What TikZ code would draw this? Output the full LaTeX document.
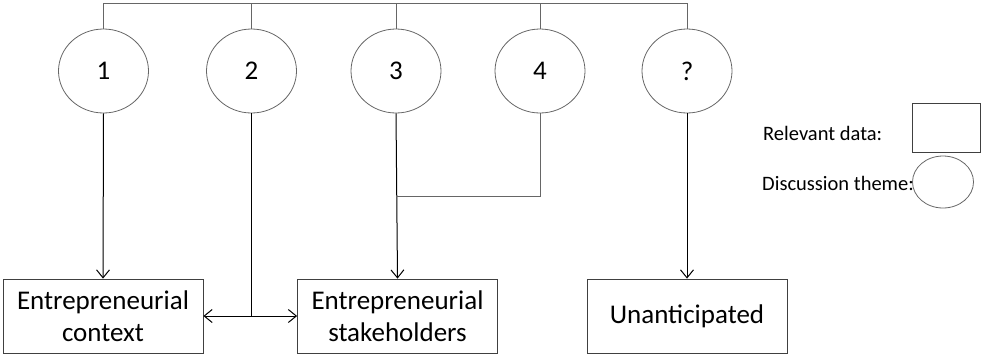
\documentclass[tikz,border=0pt]{standalone}
\usepackage{fontspec}
\setmainfont{Carlito}
\usetikzlibrary{arrows.meta,shapes.geometric}
\begin{document}
\begin{tikzpicture}[x=1pt,y=-1pt,
  theme/.style={draw=black!60,line width=0.8pt,ellipse,minimum width=90pt,minimum height=84pt,inner sep=0pt,font=\fontsize{27}{32}\selectfont},
  databox/.style={draw=black!75,line width=0.8pt,rectangle,minimum width=200pt,minimum height=74pt,inner sep=0pt,align=center,font=\fontsize{27}{32}\selectfont},
  bar/.style={draw=black!60,line width=0.9pt},
  flow/.style={draw=black,line width=1pt,-{Straight Barb[length=8pt,width=13pt]}},
  legend/.style={anchor=west,inner sep=0pt,font=\fontsize{20.5}{24}\selectfont}]
\useasboundingbox (0,0) rectangle (981,354);

% discussion themes
\node[theme] (c1) at (103.5,71) {1};
\node[theme] (c2) at (251.5,71) {2};
\node[theme] (c3) at (396,71) {3};
\node[theme] (c4) at (540,71) {4};
\node[theme] (c5) at (687,71) {?};

% relevant data
\node[databox] (b1) at (103,316) {Entrepreneurial\\context};
\node[databox] (b2) at (397.5,316) {Entrepreneurial\\stakeholders};
\node[databox] (b3) at (687,316) {Unanticipated};

% common bar linking all themes
\coordinate (top) at (0,3);
\draw[bar] (c1.north) -- (c1.north |- top) -- (c5.north |- top) -- (c5.north);
\foreach \c in {c2,c3,c4}
  \draw[bar] (\c.north) -- (\c.north |- top);

% theme to data connectors
\draw[flow] (c1.south) -- (b1.north);
\draw[flow] (c3.south) -- (b2.north);
\draw[flow] (c5.south) -- (b3.north);
\coordinate (m) at (396,196);
\draw[bar] (c4.south) |- (m);
\coordinate (j) at (251.5,316);
\draw[draw=black,line width=1pt] (c2.south) -- (j);
\draw[draw=black,line width=1pt,{Straight Barb[length=8pt,width=13pt]}-{Straight Barb[length=8pt,width=13pt]}] (b1.east) -- (b2.west);

% legend
\node[legend] (lt1) at (763,133) {Relevant data:};
\node[draw=black!75,line width=0.8pt,rectangle,minimum width=68pt,minimum height=49pt] (lb) at (946,127.5) {};
\node[legend] (lt2) at (762,183) {Discussion theme:};
\node[draw=black!60,line width=0.8pt,ellipse,minimum width=61pt,minimum height=52pt] (lc) at (943,182) {};
\end{tikzpicture}
\end{document}
